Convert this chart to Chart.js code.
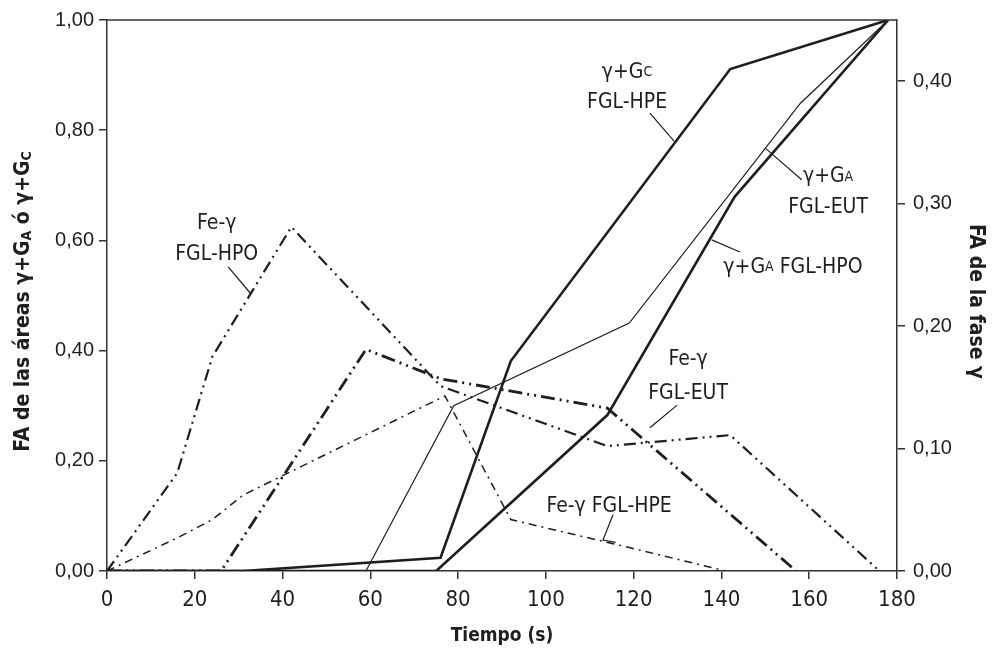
<!DOCTYPE html>
<html>
<head>
<meta charset="utf-8">
<script src="https://cdn.jsdelivr.net/npm/chart.js@4.4.0/dist/chart.umd.min.js"></script>
<style>
  body { margin: 0; background: #fff; }
  #wrap { width: 995px; height: 657px; position: relative; }
</style>
</head>
<body>
<div id="wrap"><canvas id="chart"></canvas></div>
<script>
// --- datos ---
// areas gamma+G (eje izquierdo)
const gcHpeTime = [0, 31, 76, 92, 142, 178];
const gcHpeFA   = [0, 0, 0.024, 0.381, 0.911, 1.0];
const gaEutTime = [0, 59, 79, 119, 158, 178];
const gaEutFA   = [0, 0, 0.30, 0.45, 0.849, 1.0];
const gaHpoTime = [0, 75, 114, 143, 178];
const gaHpoFA   = [0, 0, 0.283, 0.679, 1.0];

// fase Fe-gamma (eje derecho)
const feHpoTime = [0, 16, 24, 42, 76, 114, 142, 176];
const feHpoFA   = [0, 0.080, 0.175, 0.281, 0.151, 0.102, 0.111, 0];
const feEutTime = [0, 26, 59, 76, 114, 157];
const feEutFA   = [0, 0, 0.181, 0.157, 0.133, 0];
const feHpeTime = [0, 16, 24, 31, 77, 92, 118, 141];
const feHpeFA   = [0, 0.027, 0.042, 0.062, 0.143, 0.042, 0.020, 0];

const timeTicks = [0, 20, 40, 60, 80, 100, 120, 140, 160, 180];
const leftTicks = [0, 0.2, 0.4, 0.6, 0.8, 1.0];
const rightTicks = [0, 0.1, 0.2, 0.3, 0.4];

const fontNarrow = "'Liberation Sans Narrow', 'DejaVu Sans Condensed', 'Arial Narrow', sans-serif";
const fontReg = "'Liberation Sans', Arial, sans-serif";
const ink = '#1e1e1e';

function pts(xs, ys) {
    return xs.map((x, i) => ({ x: x, y: ys[i] }));
}

function fmt(v) {
    return Number(v).toFixed(2).replace('.', ',');
}

function lineSet(label, xs, ys, axis, width, dash) {
    return {
        label: label,
        data: pts(xs, ys),
        yAxisID: axis,
        borderColor: ink,
        borderWidth: width,
        borderDash: dash,
        borderCapStyle: 'butt',
        pointRadius: 0,
        tension: 0,
        fill: false
    };
}

// etiquetas dentro del grafico (posiciones en unidades de los ejes x / y izquierdo)
const notes = [
    { lines: [[['\u03b3+G', 21], ['C', 14]], [['FGL-HPE', 21]]], x: 118.5, y: [0.905, 0.850], lead: [[123.7, 0.831], [129.2, 0.780]] },
    { lines: [[['\u03b3+G', 21], ['A', 14]], [['FGL-EUT', 21]]], x: 164.3, y: [0.715, 0.660], lead: [[149.9, 0.768], [158.3, 0.710]] },
    { lines: [[['\u03b3+G', 21], ['A', 14], [' FGL-HPO', 21]]], x: 156.3, y: [0.551], lead: [[137.8, 0.601], [144.2, 0.579]] },
    { lines: [[['Fe-\u03b3', 21]], [['FGL-HPO', 21]]], x: 25.0, y: [0.630, 0.574], lead: [[27.6, 0.552], [32.6, 0.505]] },
    { lines: [[['Fe-\u03b3', 21]], [['FGL-EUT', 21]]], x: 132.4, y: [0.384, 0.322], lead: [[129.9, 0.301], [123.7, 0.260]] },
    { lines: [[['Fe-\u03b3 FGL-HPE', 21]]], x: 114.4, y: [0.117], lead: [[115.3, 0.102], [113.0, 0.056], [115.9, 0.052]] }
];

function drawRich(ctx, parts, cx, cy, weight) {
    let total = 0;
    parts.forEach(p => {
        ctx.font = weight + ' ' + p[1] + 'px ' + fontNarrow;
        total += ctx.measureText(p[0]).width;
    });
    let x = cx - total / 2;
    parts.forEach(p => {
        ctx.font = weight + ' ' + p[1] + 'px ' + fontNarrow;
        ctx.fillText(p[0], x, cy + (p[2] || 0));
        x += ctx.measureText(p[0]).width;
    });
}

const decorPlugin = {
    id: 'decor',
    afterDraw(chart) {
        const ctx = chart.ctx;
        const area = chart.chartArea;
        const sx = chart.scales.x;
        const sy = chart.scales.y;
        ctx.save();

        // marco superior
        ctx.strokeStyle = '#333';
        ctx.lineWidth = 1.5;
        ctx.beginPath();
        ctx.moveTo(area.left, area.top);
        ctx.lineTo(area.right, area.top);
        ctx.stroke();

        ctx.fillStyle = ink;
        ctx.textBaseline = 'middle';
        ctx.textAlign = 'left';

        // etiquetas y lineas guia
        notes.forEach(n => {
            n.lines.forEach((ln, i) => {
                drawRich(ctx, ln, sx.getPixelForValue(n.x), sy.getPixelForValue(n.y[i]), 'normal');
            });
            ctx.strokeStyle = ink;
            ctx.lineWidth = 1.2;
            ctx.beginPath();
            n.lead.forEach((p, i) => {
                const px = sx.getPixelForValue(p[0]);
                const py = sy.getPixelForValue(p[1]);
                if (i === 0) ctx.moveTo(px, py); else ctx.lineTo(px, py);
            });
            ctx.stroke();
        });

        // titulos de ejes
        const midY = (area.top + area.bottom) / 2;
        ctx.save();
        ctx.translate(24, midY + 6);
        ctx.rotate(-Math.PI / 2);
        drawRich(ctx, [['FA de las \u00e1reas \u03b3+G', 21], ['A', 14, 3], [' \u00f3 \u03b3+G', 21], ['C', 14, 3]], 0, 0, 'bold');
        ctx.restore();

        ctx.save();
        ctx.translate(975, midY + 6);
        ctx.rotate(Math.PI / 2);
        drawRich(ctx, [['FA de la fase \u03b3', 21]], 0, 0, 'bold');
        ctx.restore();

        drawRich(ctx, [['Tiempo (s)', 19]], (area.left + area.right) / 2, 636, 'bold');
        ctx.restore();
    }
};

const axisGrid = { drawOnChartArea: false, drawTicks: true, tickLength: 8, color: '#333', lineWidth: 1.5 };
const axisBorder = { color: '#333', width: 1.5 };

new Chart(document.getElementById('chart'), {
    type: 'line',
    data: {
        datasets: [
            lineSet('\u03b3+GC FGL-HPE', gcHpeTime, gcHpeFA, 'y', 2.6, []),
            lineSet('\u03b3+GA FGL-EUT', gaEutTime, gaEutFA, 'y', 1.2, []),
            lineSet('\u03b3+GA FGL-HPO', gaHpoTime, gaHpoFA, 'y', 2.6, []),
            lineSet('Fe-\u03b3 FGL-HPO', feHpoTime, feHpoFA, 'y2', 2.2, [12, 5, 2, 5, 2, 5]),
            lineSet('Fe-\u03b3 FGL-EUT', feEutTime, feEutFA, 'y2', 2.8, [14, 5, 2, 5, 2, 5]),
            lineSet('Fe-\u03b3 FGL-HPE', feHpeTime, feHpeFA, 'y2', 1.5, [8, 5, 2, 5])
        ]
    },
    options: {
        responsive: true,
        maintainAspectRatio: false,
        animation: false,
        layout: { padding: { top: 20, left: 0, right: 0, bottom: 0 } },
        plugins: { legend: { display: false }, tooltip: { enabled: false } },
        scales: {
            x: {
                type: 'linear',
                min: 0,
                max: 180,
                afterBuildTicks: s => { s.ticks = timeTicks.map(v => ({ value: v })); },
                afterFit: s => { s.height = 86; },
                ticks: { font: { family: fontNarrow, size: 22 }, color: ink, padding: 8, maxRotation: 0 },
                grid: axisGrid,
                border: axisBorder
            },
            y: {
                position: 'left',
                min: 0,
                max: 1,
                afterBuildTicks: s => { s.ticks = leftTicks.map(v => ({ value: v })); },
                afterFit: s => { s.width = 107; },
                ticks: { font: { family: fontReg, size: 20 }, color: ink, padding: 5, callback: fmt },
                grid: axisGrid,
                border: axisBorder
            },
            y2: {
                position: 'right',
                min: 0,
                max: 0.45,
                afterBuildTicks: s => { s.ticks = rightTicks.map(v => ({ value: v })); },
                afterFit: s => { s.width = 98; },
                ticks: { font: { family: fontReg, size: 20 }, color: ink, padding: 8, callback: fmt },
                grid: axisGrid,
                border: axisBorder
            }
        }
    },
    plugins: [decorPlugin]
});
</script>
</body>
</html>
